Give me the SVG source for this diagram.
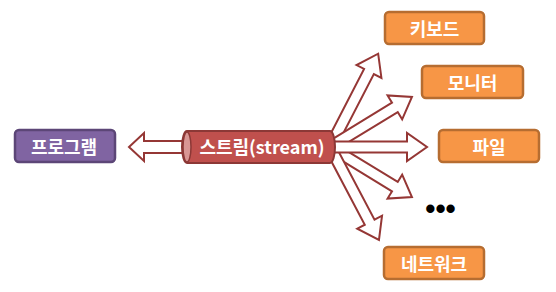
<svg xmlns="http://www.w3.org/2000/svg" width="556" height="292" viewBox="0 0 556 292">
<defs>
<style>
.box{stroke-width:2.5}
.prog{fill:#8064A2;stroke:#5C4677}
.dev{fill:#F79646;stroke:#B66D31}
.lbl{font-family:"Noto Sans CJK KR","Noto Sans",sans-serif;font-weight:bold;font-size:18px;fill:#FFFFFF;text-anchor:middle;dominant-baseline:central}
.arr{fill:#FFFFFF;stroke:#953735;stroke-width:2;stroke-linejoin:miter}
</style>
</defs>
<g id="connectors">
<polygon class="arr" points="190,141 144,141 144,133 129,147 144,161 144,153 190,153"/>
<g transform="translate(330,147)">
<polygon class="arr" transform="rotate(-62.7)" points="0,-5.5 85,-5.5 85,-14 105,0 85,14 85,5.5 0,5.5"/>
<polygon class="arr" transform="rotate(-31.4)" points="0,-5.5 76,-5.5 76,-14 96,0 76,14 76,5.5 0,5.5"/>
<polygon class="arr" transform="rotate(31.4)" points="0,-5.5 76,-5.5 76,-14 96,0 76,14 76,5.5 0,5.5"/>
<polygon class="arr" transform="rotate(62.2)" points="0,-5.5 85,-5.5 85,-14 105,0 85,14 85,5.5 0,5.5"/>
<polygon class="arr" points="0,-5.5 77,-5.5 77,-14 97,0 77,14 77,5.5 0,5.5"/>
</g>
</g>
<g id="program">
<rect class="box prog" x="15" y="130" width="100" height="32" rx="4"/>
<text class="lbl" x="64" y="146">프로그램</text>
</g>
<g id="stream">
<path d="M187,131 H330 A5,16 0 0 1 330,163 H187 A5,16 0 0 1 187,131 Z" fill="#C0504D" stroke="#8C3836" stroke-width="2"/>
<ellipse cx="187" cy="147" rx="4" ry="15" fill="#D99694" stroke="#8C3836" stroke-width="1.5"/>
<text class="lbl" x="262" y="146">스트림(stream)</text>
</g>
<g id="keyboard">
<rect class="box dev" x="385" y="12" width="99" height="32" rx="4"/>
<text class="lbl" x="434.5" y="28">키보드</text>
</g>
<g id="monitor">
<rect class="box dev" x="422" y="66" width="101" height="32" rx="4"/>
<text class="lbl" x="472.5" y="82">모니터</text>
</g>
<g id="file">
<rect class="box dev" x="439" y="130" width="100" height="32" rx="4"/>
<text class="lbl" x="489" y="146">파일</text>
</g>
<g id="etc">
<text x="440.5" y="209" font-family="Liberation Sans, sans-serif" font-weight="bold" font-size="29" text-anchor="middle" dominant-baseline="central" fill="#000000">•••</text>
</g>
<g id="network">
<rect class="box dev" x="384" y="247" width="100" height="32" rx="4"/>
<text class="lbl" x="434" y="263">네트워크</text>
</g>
</svg>
